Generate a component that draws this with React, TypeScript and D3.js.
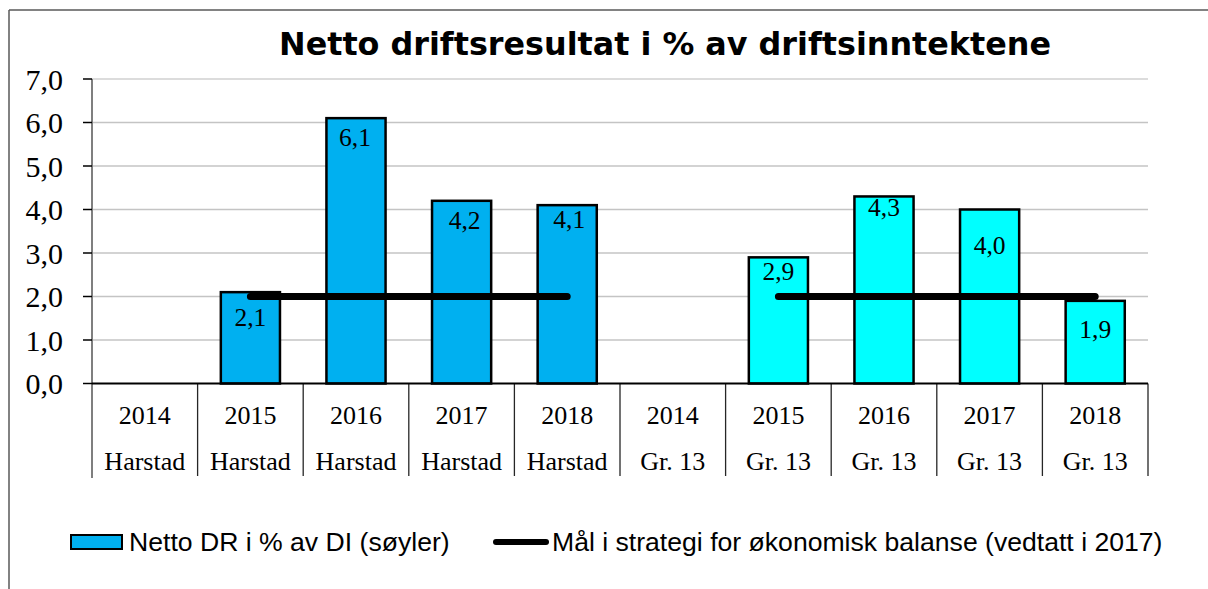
import React from "react";
import * as d3 from "d3";

const years = ["2014", "2015", "2016", "2017", "2018", "2014", "2015", "2016", "2017", "2018"];
const groups = ["Harstad", "Harstad", "Harstad", "Harstad", "Harstad", "Gr. 13", "Gr. 13", "Gr. 13", "Gr. 13", "Gr. 13"];
const barValues: (number | null)[] = [null, 2.1, 6.1, 4.2, 4.1, null, 2.9, 4.3, 4.0, 1.9];
const targetValues: (number | null)[] = [null, 2, 2, 2, 2, null, 2, 2, 2, 2];
const yTicks = [0, 1, 2, 3, 4, 5, 6, 7];
const title = "Netto driftsresultat i % av driftsinntektene";
const legendBar = "Netto DR i % av DI (søyler)";
const legendLine = "Mål i strategi for økonomisk balanse (vedtatt i 2017)";

// layout / style (not data)
const W = 1208;
const H = 589;
const M = { left: 92, right: 1148, top: 79, bottom: 383.5 };
const labelDy = [0, 34, 27.5, 28, 23, 0, 23, 20, 44, 37.5];
const labelDx = [0, 0, -1, 3, 2, 0, 0, 0, 0, 0];
const colorHarstad = "#00B0F0";
const colorGr13 = "#00FFFF";

export default function App() {
  const idx = years.map((_, i) => i);
  const x = d3.scaleBand<number>().domain(idx).range([M.left, M.right]).padding(0);
  const y = d3.scaleLinear().domain([0, 7]).range([M.bottom, M.top]);
  const bw = x.bandwidth() * 0.56;
  const cx = (i: number) => (x(i) as number) + x.bandwidth() / 2;

  const line = d3
    .line<number>()
    .defined((i) => targetValues[i] != null)
    .x((i) => cx(i))
    .y((i) => y(targetValues[i] as number));

  const serif = "'Liberation Serif', 'Times New Roman', serif";
  const sans = "'Liberation Sans', Arial, sans-serif";

  return (
    <svg
      width={W}
      height={H}
      style={{ position: "absolute", left: 0, top: 0, background: "#fff" }}
    >
      {/* outer frame */}
      <line x1={9} y1={10} x2={W} y2={10} stroke="#595959" strokeWidth={1.5} />
      <line x1={9} y1={10} x2={9} y2={H} stroke="#595959" strokeWidth={1.5} />

      <text
        x={665}
        y={55}
        textAnchor="middle"
        fontFamily="'DejaVu Sans', Verdana, sans-serif"
        fontWeight="bold"
        fontSize={31.8}
        fill="#000"
      >
        {title}
      </text>

      {/* gridlines */}
      {yTicks.map((t) =>
        t === 0 ? null : (
          <line
            key={"g" + t}
            x1={M.left}
            x2={M.right}
            y1={y(t)}
            y2={y(t)}
            stroke={t === 7 ? "#dcdcdc" : "#c4c4c4"}
            strokeWidth={t === 7 ? 1.8 : 1.3}
          />
        )
      )}

      {/* y axis */}
      <line x1={M.left} x2={M.left} y1={M.top} y2={478} stroke="#7f7f7f" strokeWidth={2} />
      {yTicks.map((t) => (
        <g key={"t" + t}>
          <line x1={83} x2={M.left} y1={y(t)} y2={y(t)} stroke="#000" strokeWidth={1.5} />
          <text
            x={63}
            y={y(t) + 10.5}
            textAnchor="end"
            fontFamily={serif}
            fontSize={30}
            fill="#000"
          >
            {d3.format(".1f")(t).replace(".", ",")}
          </text>
        </g>
      ))}

      {/* category dividers */}
      {d3.range(1, years.length + 1).map((k) => {
        const xx = M.left + x.step() * k;
        return <line key={"d" + k} x1={xx} x2={xx} y1={M.bottom} y2={476} stroke="#262626" strokeWidth={1.3} />;
      })}

      {/* bars */}
      {idx.map((i) => {
        const v = barValues[i];
        if (v == null) return null;
        return (
          <rect
            key={"b" + i}
            x={cx(i) - bw / 2}
            y={y(v)}
            width={bw}
            height={y(0) - y(v)}
            fill={groups[i] === "Harstad" ? colorHarstad : colorGr13}
            stroke="#000"
            strokeWidth={2.5}
          />
        );
      })}

      {/* baseline */}
      <line x1={M.left} x2={M.right} y1={M.bottom} y2={M.bottom} stroke="#000" strokeWidth={2} />

      {/* target line */}
      <path
        d={line(idx) || ""}
        fill="none"
        stroke="#000"
        strokeWidth={7}
        strokeLinecap="round"
      />

      {/* data labels */}
      {idx.map((i) => {
        const v = barValues[i];
        if (v == null) return null;
        return (
          <text
            key={"l" + i}
            x={cx(i) + labelDx[i]}
            y={y(v) + labelDy[i]}
            textAnchor="middle"
            fontFamily={serif}
            fontSize={25.5}
            fill="#000"
          >
            {d3.format(".1f")(v).replace(".", ",")}
          </text>
        );
      })}

      {/* x labels */}
      {idx.map((i) => (
        <g key={"x" + i}>
          <text x={cx(i)} y={424} textAnchor="middle" fontFamily={serif} fontSize={26} fill="#000">
            {years[i]}
          </text>
          <text x={cx(i)} y={470} textAnchor="middle" fontFamily={serif} fontSize={26} fill="#000">
            {groups[i]}
          </text>
        </g>
      ))}

      {/* legend */}
      <rect x={71} y={535} width={51} height={14} fill={colorHarstad} stroke="#000" strokeWidth={2} />
      <text x={129} y={551} fontFamily={sans} fontSize={26.6} fill="#000">
        {legendBar}
      </text>
      <line x1={496} x2={546} y1={542} y2={542} stroke="#000" strokeWidth={6} strokeLinecap="round" />
      <text x={552} y={551} fontFamily={sans} fontSize={26.6} fill="#000">
        {legendLine}
      </text>
    </svg>
  );
}
